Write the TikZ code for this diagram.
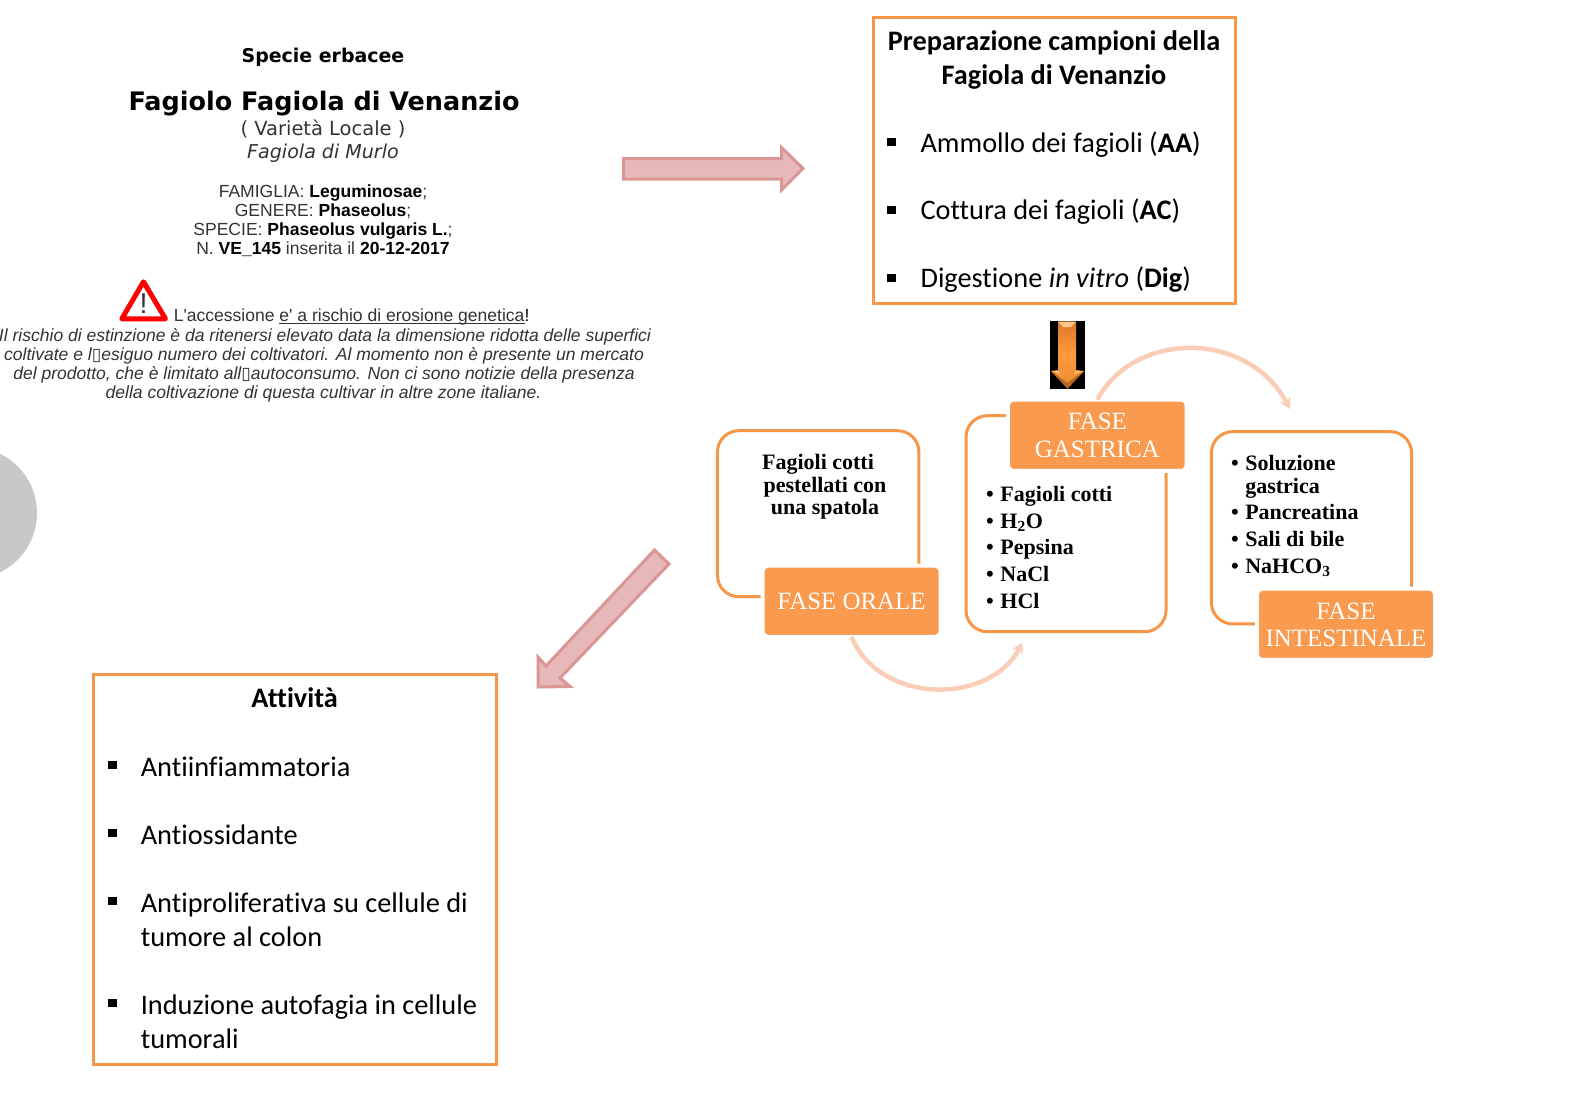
\documentclass[tikz,border=0pt]{standalone}
\usepackage{fontspec}
\setmainfont{Liberation Serif}
\newfontfamily\calf[Ligatures=NoCommon]{Carlito}
\newfontfamily\verf{DejaVu Sans}
\newfontfamily\arif{Liberation Sans}
\usetikzlibrary{arrows.meta}
\definecolor{org}{HTML}{F79646}
\definecolor{orgfill}{HTML}{F99A4F}
\definecolor{pinkf}{HTML}{E6B8B7}
\definecolor{pinkd}{HTML}{D99694}
\definecolor{arc}{HTML}{FBCDB6}
\definecolor{txt}{HTML}{333333}
\definecolor{greyc}{HTML}{C8C8C8}
\definecolor{goldl}{HTML}{D9782A}
\definecolor{goldm}{HTML}{FF9A3C}
\definecolor{goldr}{HTML}{E98A35}
\definecolor{goldt}{HTML}{FFC58A}
\definecolor{goldd}{HTML}{B5651F}
\newcommand{\boxmiss}{{\verf\fontsize{13pt}{13pt}\selectfont ▯}}
\newsavebox{\ulbox}
\newcommand{\ulin}[1]{\sbox{\ulbox}{#1}\rlap{\rule[-1.4pt]{\wd\ulbox}{0.6pt}}\usebox{\ulbox}}
\tikzset{
  px/.style={line width=#1*0.75pt},
  sq/.style={fill=black,minimum size=6.2pt,inner sep=0pt,outer sep=0pt},
  frame/.style={draw=org,px=3,fill=white,inner sep=0pt,outer sep=0pt,sharp corners},
  calr/.style={inner sep=0pt,font=\calf\fontsize{21.25pt}{24pt}\selectfont},
  calb/.style={inner sep=0pt,font=\calf\bfseries\fontsize{21.2pt}{24pt}\selectfont},
  vers/.style={inner sep=0pt,anchor=base},
  aris/.style={inner sep=0pt,anchor=base,font=\arif\fontsize{13.15pt}{16pt}\selectfont,text=txt},
  arii/.style={inner sep=0pt,anchor=base,font=\arif\itshape\fontsize{13.15pt}{16pt}\selectfont,text=txt},
  outl/.style={draw=org,px=3,rounded corners=16pt,inner sep=0pt,outer sep=0pt},
  phase/.style={fill=orgfill,draw=white,px=4,rounded corners=4.5pt,inner sep=0pt,outer sep=0pt},
  phtxt/.style={inner sep=0pt,anchor=base,text=white,font=\fontsize{18.7pt}{22pt}\selectfont},
  lst/.style={inner sep=0pt,anchor=base west,font=\bfseries\fontsize{16.5pt}{20pt}\selectfont},
  lstc/.style={inner sep=0pt,anchor=base,font=\bfseries\fontsize{16.5pt}{20pt}\selectfont},
  blockarrow/.style={fill=pinkf,draw=pinkd,px=3,line join=miter},
  curve/.style={draw=arc,px=4.5,-{Stealth[length=8pt,width=9pt]}},
}
\begin{document}
\begin{tikzpicture}[x=0.75pt,y=-0.75pt]
\path[use as bounding box,clip] (0,0) rectangle (1589,1115);
\fill[white] (0,0) rectangle (1589,1115);
% grey disc
\fill[greyc] (-29,513) circle[radius=49.5pt];

% left text
\node[vers,font=\verf\bfseries\fontsize{14.2pt}{18pt}\selectfont] (t1) at (323,62.7) {Specie erbacee};
\node[vers,font=\verf\bfseries\fontsize{19.1pt}{24pt}\selectfont] (t2) at (324,110.7) {Fagiolo Fagiola di Venanzio};
\node[vers,text=txt,font=\verf\fontsize{14.6pt}{18pt}\selectfont] (t3) at (323,135.7) {( Varietà Locale )};
\node[vers,text=txt,font=\verf\itshape\fontsize{14.3pt}{18pt}\selectfont] (t4) at (323,158.3) {Fagiola di Murlo};
\node[aris] (f1) at (323,197.3) {FAMIGLIA: \textcolor{black}{\bfseries Leguminosae};};
\node[aris] (f2) at (323,216.3) {GENERE: \textcolor{black}{\bfseries Phaseolus};};
\node[aris] (f3) at (323,235.3) {SPECIE: \textcolor{black}{\bfseries Phaseolus vulgaris L.};};
\node[aris] (f4) at (323,254.3) {N. \textcolor{black}{\bfseries VE\_145} inserita il \textcolor{black}{\bfseries 20-12-2017}};
% warning sign
\draw[red,px=5,line join=round,fill=white] (143.5,281.8) -- (165.5,318.8) -- (121.8,318.8) -- cycle;
\node[inner sep=0pt,anchor=base,text=txt,font=\arif\fontsize{21.5pt}{22pt}\selectfont] (warn) at (143.5,313) {!};
\node[aris,anchor=base west] (w0) at (173.5,321.7) {L'accessione \ulin{e' a rischio di erosione genetica}\textcolor{black}{!}};
\node[arii] (w1) at (325,341) {Il rischio di estinzione è da ritenersi elevato data la dimensione ridotta delle superfici};
\node[arii] (w2) at (324,360.3) {coltivate e l\boxmiss esiguo numero dei coltivatori. Al momento non è presente un mercato};
\node[arii] (w3) at (324,379.7) {del prodotto, che è limitato all\boxmiss autoconsumo. Non ci sono notizie della presenza};
\node[arii] (w4) at (323.5,398.3) {della coltivazione di questa cultivar in altre zone italiane.};

% pink arrows
\draw[blockarrow] (623.5,158.5) -- (781.5,158.5) -- (781.5,147.5) -- (803,168.5) -- (781.5,190) -- (781.5,179) -- (623.5,179) -- cycle;
\draw[blockarrow] (654.5,550) -- (669,564) -- (560,678) -- (570,686.5) -- (538,687) -- (538,657) -- (546,666) -- cycle;

% preparation box
\node[frame,minimum width=0.75*362pt,minimum height=0.75*286.5pt] (prep) at (1054.5,160.5) {};
\node[calb,anchor=base] (pt1) at (1054,50.7) {Preparazione campioni della};
\node[calb,anchor=base] (pt2) at (1054,84.6) {Fagiola di Venanzio};
\node[sq] (pb1) at (891.5,142) {};
\node[sq] (pb2) at (891.5,210) {};
\node[sq] (pb3) at (891.5,278) {};
\node[calr,anchor=base west] (pi1) at (920.3,152) {Ammollo dei fagioli (\textbf{AA})};
\node[calr,anchor=base west] (pi2) at (920.3,219.8) {Cottura dei fagioli (\textbf{AC})};
\node[calr,anchor=base west] (pi3) at (920.3,287.9) {Digestione \textit{in vitro} (\textbf{Dig})};

% black panel with gold arrow
\node[fill=black,minimum width=0.75*35pt,minimum height=0.75*67.7pt,inner sep=0pt,outer sep=0pt] (panel) at (1067.5,355) {};
\shade[left color=goldl,right color=goldr,middle color=goldm,shading angle=0]
  (1058,321.5) -- (1076,321.5) -- (1076,370) -- (1084,371) -- (1067.5,388.5) -- (1051,371) -- (1058,370) -- cycle;
\fill[goldt] (1058,321.5) -- (1076,321.5) -- (1071,327) -- (1063,327) -- cycle;
\fill[goldt] (1052,371) -- (1058,371) -- (1060,374) -- cycle;
\fill[goldt] (1083,371) -- (1076,371) -- (1074,374) -- cycle;
\fill[goldd] (1051,371) -- (1067.5,388.5) -- (1084,371) -- (1067.5,383) -- cycle;

% activity box
\node[frame,minimum width=0.75*403.5pt,minimum height=0.75*390pt] (att) at (295,869) {};
\node[calb,anchor=base] (a0) at (294.6,707) {Attività};
\node[sq] (ab1) at (112.5,765) {};
\node[sq] (ab2) at (112.5,833) {};
\node[sq] (ab3) at (112.5,901) {};
\node[sq] (ab4) at (112.5,1003) {};
\node[calr,anchor=base west] (a1) at (140.5,776.2) {Antiinfiammatoria};
\node[calr,anchor=base west] (a2) at (140.5,844.2) {Antiossidante};
\node[calr,anchor=base west] (a3) at (140.5,912.2) {Antiproliferativa su cellule di};
\node[calr,anchor=base west] (a3b) at (140.5,946.2) {tumore al colon};
\node[calr,anchor=base west] (a4) at (140.5,1014.2) {Induzione autofagia in cellule};
\node[calr,anchor=base west] (a4b) at (140.5,1048.2) {tumorali};

% phase outlines
\node[outl,minimum width=0.75*201.5pt,minimum height=0.75*166pt] (oo) at (818.2,513.7) {};
\node[outl,minimum width=0.75*200pt,minimum height=0.75*216pt] (og) at (1066,523.7) {};
\node[outl,minimum width=0.75*200.2pt,minimum height=0.75*192.3pt] (oi) at (1311.5,527.8) {};

% phase boxes
\node[phase,minimum width=0.75*174pt+3pt,minimum height=0.75*67.3pt+3pt] (po) at (851.5,601.3) {};
\node[phase,minimum width=0.75*174.7pt+3pt,minimum height=0.75*67.3pt+3pt] (pg) at (1097.3,435.3) {};
\node[phase,minimum width=0.75*174pt+3pt,minimum height=0.75*67.3pt+3pt] (pin) at (1346,624.3) {};
\node[phtxt] (po1) at (851.5,609) {FASE ORALE};
\node[phtxt] (pg1) at (1097.3,429.5) {FASE};
\node[phtxt] (pg2) at (1097.3,457.5) {GASTRICA};
\node[phtxt] (pi1t) at (1346,619) {FASE};
\node[phtxt] (pi2t) at (1346,646.5) {INTESTINALE};

% curved connectors
\coordinate (c1e) at (1022.3,642.7);
\coordinate (c2e) at (1290,409);
\draw[curve] (po.south) .. controls (880,705) and (990,705) .. (c1e);
\draw[curve] (pg.north) .. controls (1135,330) and (1248,330) .. (c2e);

% list texts
\node[lstc] (l1) at (818,469) {Fagioli cotti};
\node[lstc] (l2) at (825,492.4) {pestellati con};
\node[lstc] (l3) at (825,514) {una spatola};

\foreach \n/\y/\t in {a/501.5/Fagioli cotti,b/528/H\textsubscript{2}O,c/554/Pepsina,d/581.4/NaCl,e/608/HCl}{
  \node[lst] (g\n) at (1000.2,\y) {\t};
  \node[lst,anchor=base] (gb\n) at (990,\y) {•};
}
\foreach \n/\y/\t in {a/470/Soluzione,c/519/Pancreatina,d/546/Sali di bile,e/573.3/NaHCO\textsubscript{3}}{
  \node[lst] (i\n) at (1245,\y) {\t};
  \node[lst,anchor=base] (ib\n) at (1235,\y) {•};
}
\node[lst] (ib) at (1245,493) {gastrica};
\end{tikzpicture}
\end{document}
